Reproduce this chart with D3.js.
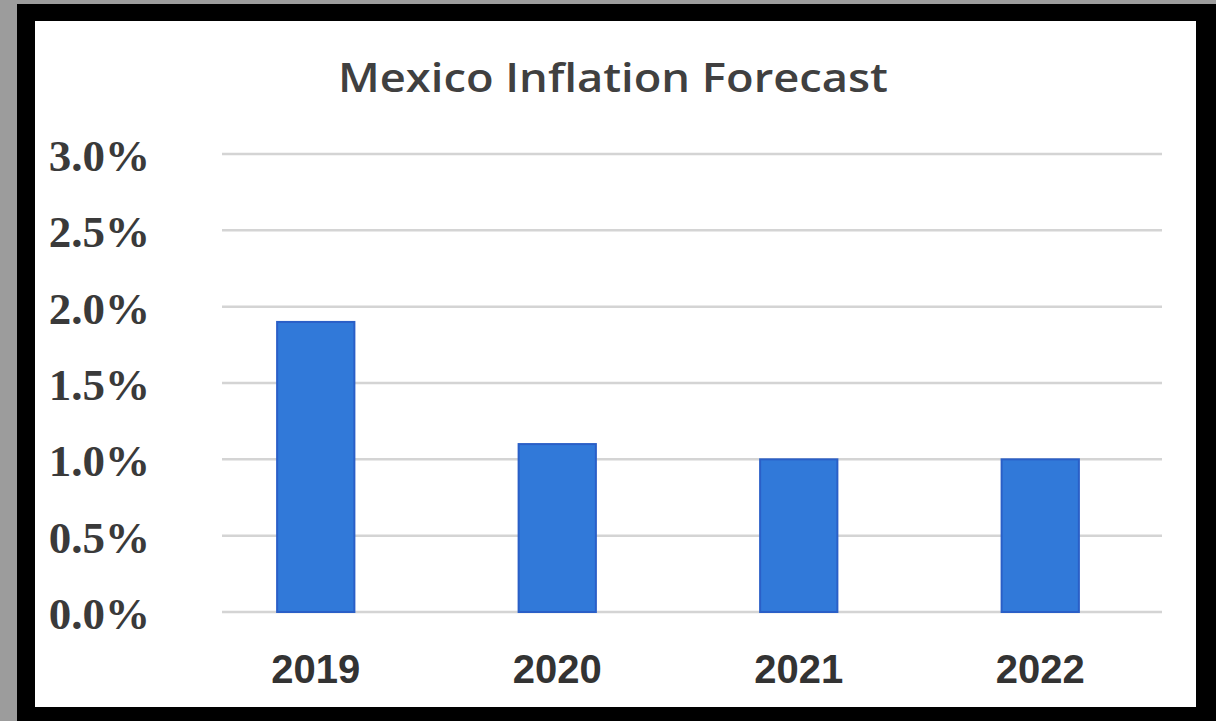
<!DOCTYPE html>
<html><head><meta charset="utf-8">
<script src="https://cdn.jsdelivr.net/npm/d3@7"></script>
<style>html,body{margin:0;padding:0;background:#9c9c9c;}svg{display:block;}</style>
</head><body>
<svg id="chart" width="1216" height="721"></svg>
<script>
const title = "Mexico Inflation Forecast";
const categories = ["2019", "2020", "2021", "2022"];
const values = [1.9, 1.1, 1.0, 1.0];
const yTicks = [0, 0.5, 1.0, 1.5, 2.0, 2.5, 3.0];

const svg = d3.select("#chart");
// frame
svg.append("rect").attr("x", 17).attr("y", 4).attr("width", 1199).attr("height", 717).attr("fill", "#000");
svg.append("rect").attr("x", 35).attr("y", 21).attr("width", 1161).attr("height", 686).attr("fill", "#fff");

const y = d3.scaleLinear().domain([0, 3]).range([612, 154]);
const x = d3.scaleBand().domain(categories).range([195, 1161]).paddingInner(0.68).paddingOuter(0.34);

// gridlines
svg.append("g").selectAll("line").data(yTicks).join("line")
  .attr("x1", 222).attr("x2", 1162)
  .attr("y1", d => y(d)).attr("y2", d => y(d))
  .attr("stroke", "#d4d4d4").attr("stroke-width", 2.5);

// y labels
const fmt = d3.format(".1f");
svg.append("g").selectAll("text").data(yTicks).join("text")
  .attr("x", 150).attr("y", d => y(d) + 17)
  .attr("text-anchor", "end")
  .attr("font-family", "'Liberation Serif', 'DejaVu Serif', serif")
  .attr("font-weight", "bold").attr("font-size", 45)
  .attr("fill", "#3a3a3a")
  .text(d => fmt(d) + "%");

// bars
svg.append("g").selectAll("rect").data(values).join("rect")
  .attr("x", (d, i) => x(categories[i]))
  .attr("y", d => y(d))
  .attr("width", x.bandwidth())
  .attr("height", d => y(0) - y(d))
  .attr("fill", "#3179d9")
  .attr("stroke", "#2a5fc7").attr("stroke-width", 2);

// x labels
svg.append("g").selectAll("text").data(categories).join("text")
  .attr("x", d => x(d) + x.bandwidth() / 2).attr("y", 683)
  .attr("text-anchor", "middle")
  .attr("font-family", "'Liberation Sans', Arial, sans-serif")
  .attr("font-weight", "bold").attr("font-size", 40)
  .attr("fill", "#333")
  .text(d => d);

// title
svg.append("text").attr("x", 613).attr("y", 92)
  .attr("text-anchor", "middle")
  .attr("font-family", "'Open Sans', 'Liberation Sans', sans-serif")
  .attr("font-weight", 600).attr("font-size", 40)
  .attr("fill", "#404040")
  .attr("textLength", 550).attr("lengthAdjust", "spacingAndGlyphs")
  .text(title);
</script>
</body></html>
